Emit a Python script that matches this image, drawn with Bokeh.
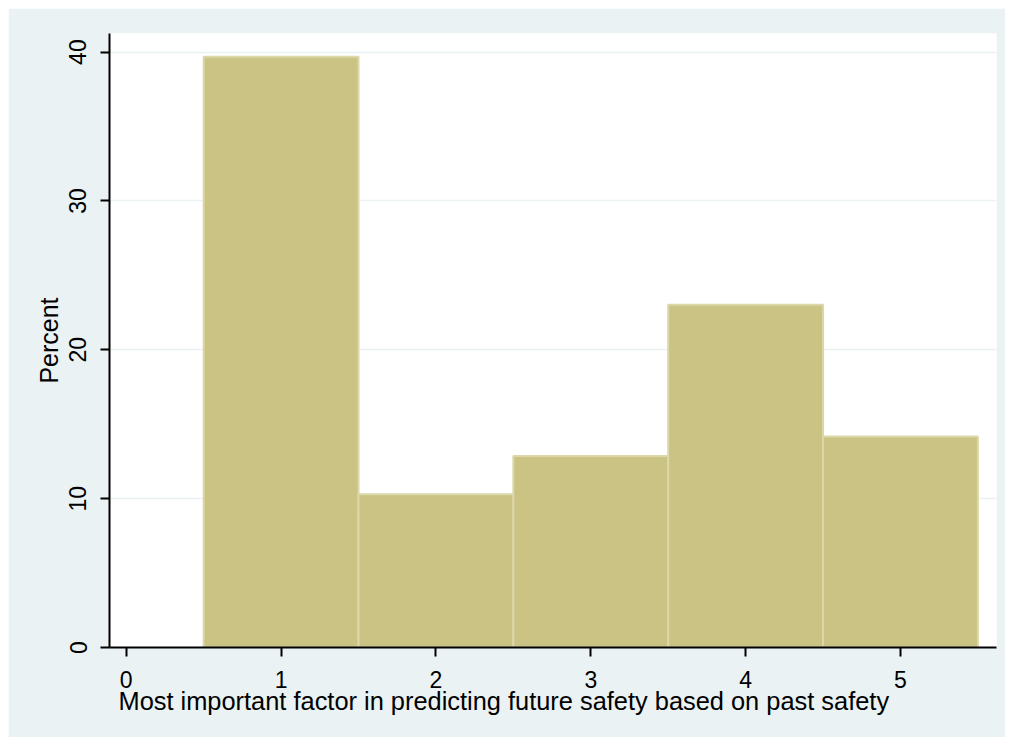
from bokeh.plotting import figure
from bokeh.models import Range1d, FixedTicker, ColumnDataSource, Title
from bokeh.embed import file_html
from bokeh.resources import INLINE

# Data
categories = [1, 2, 3, 4, 5]
percent = [39.68, 10.3, 12.87, 23.03, 14.17]
bin_width = 1.0
x_ticks = [0, 1, 2, 3, 4, 5]
y_ticks = [0, 10, 20, 30, 40]
x_title = "Most important factor in predicting future safety based on past safety"
y_title = "Percent"

BG = "#eaf2f3"
FONT = "Liberation Sans"

src = ColumnDataSource(dict(
    left=[c - bin_width / 2 for c in categories],
    right=[c + bin_width / 2 for c in categories],
    top=percent,
    bottom=[0] * len(categories),
))

p = figure(width=997, height=729, output_backend="svg", toolbar_location=None,
           x_range=Range1d(-0.108, 5.62), y_range=Range1d(0, 41.25),
           min_border_left=101, min_border_right=9, min_border_top=25, min_border_bottom=90)
p.margin = (8, 8, 8, 8)

p.background_fill_color = "white"
p.border_fill_color = BG
p.outline_line_color = None

p.quad(left="left", right="right", top="top", bottom="bottom", source=src,
       fill_color="#cbc383", line_color="#dcd7a9", line_width=2)

p.xgrid.grid_line_color = None
p.ygrid.grid_line_color = BG
p.ygrid.grid_line_width = 1.5
p.ygrid.ticker = FixedTicker(ticks=y_ticks)

for ax in (p.xaxis[0], p.yaxis[0]):
    ax.axis_line_color = "black"
    ax.axis_line_width = 2
    ax.major_tick_line_color = "black"
    ax.major_tick_line_width = 2
    ax.major_tick_out = 9
    ax.major_tick_in = 0
    ax.minor_tick_line_color = None
    ax.major_label_text_font = FONT
    ax.major_label_text_font_size = "23px"
    ax.major_label_text_color = "black"
    ax.axis_label_text_font = FONT
    ax.axis_label_text_font_size = "25px"
    ax.axis_label_text_font_style = "normal"
    ax.axis_label_text_color = "black"

p.xaxis.ticker = FixedTicker(ticks=x_ticks)
p.yaxis.ticker = FixedTicker(ticks=y_ticks)
p.yaxis.major_label_orientation = "vertical"
p.yaxis.axis_label = y_title
p.xaxis.major_label_standoff = 14
p.yaxis.major_label_standoff = 14
p.yaxis.axis_label_standoff = 4

xt = Title(text=x_title, align="left", offset=9, standoff=-12,
           text_font=FONT, text_font_size="25.4px", text_font_style="normal",
           text_color="black")
p.add_layout(xt, "below")

open("out.html", "w").write(file_html(p, INLINE))
